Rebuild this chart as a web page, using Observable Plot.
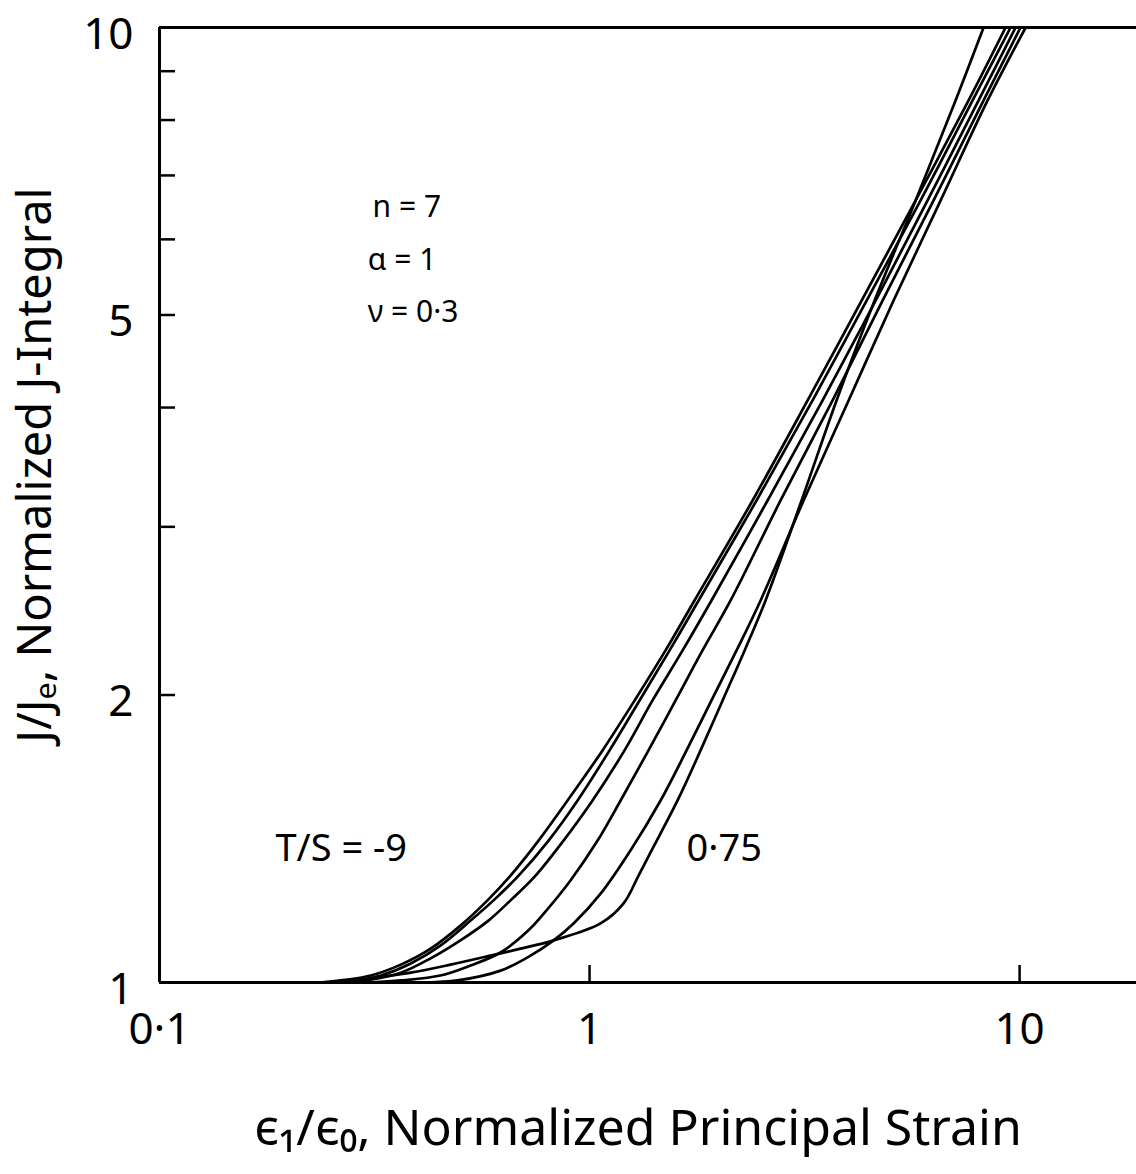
<!DOCTYPE html>
<html>
<head>
<meta charset="utf-8">
<script src="https://cdn.jsdelivr.net/npm/d3@7"></script>
<script src="https://cdn.jsdelivr.net/npm/@observablehq/plot@0.6"></script>
<style>
  html, body { margin: 0; padding: 0; background: #fff; }
  #chart svg { display: block; }
</style>
</head>
<body>
<div id="chart"></div>
<script>
// ---- Data (ε1/ε0 vs J/Je), six T/S curves ----
const seriesNames = ["T/S=-9", "curve 2", "curve 3", "curve 4", "curve 5", "T/S=0.75"];

const strainA = [0.237, 0.264, 0.310, 0.364, 0.427, 0.501, 0.579, 0.655, 0.761, 0.889, 1.072, 1.273, 1.502, 1.754, 2.394, 3.214, 4.292, 5.731, 7.610, 9.278];
const jA      = [1.000, 1.005, 1.017, 1.044, 1.085, 1.147, 1.219, 1.294, 1.408, 1.551, 1.750, 1.974, 2.227, 2.512, 3.197, 4.069, 5.177, 6.591, 8.387, 10];

const strainB = [0.257, 0.278, 0.327, 0.384, 0.450, 0.529, 0.598, 0.684, 0.803, 0.938, 1.113, 1.307, 1.535, 1.793, 2.445, 3.301, 4.408, 5.886, 7.775, 9.530];
const jB      = [1.000, 1.002, 1.017, 1.047, 1.093, 1.161, 1.219, 1.294, 1.408, 1.551, 1.750, 1.974, 2.227, 2.512, 3.197, 4.069, 5.177, 6.591, 8.387, 10];

const strainC = [0.271, 0.310, 0.364, 0.427, 0.501, 0.582, 0.655, 0.749, 0.870, 1.016, 1.206, 1.401, 1.646, 1.921, 2.594, 3.483, 4.626, 6.110, 8.029, 9.788];
const jC      = [1.000, 1.007, 1.024, 1.060, 1.107, 1.161, 1.219, 1.294, 1.408, 1.551, 1.750, 1.974, 2.227, 2.512, 3.197, 4.069, 5.177, 6.591, 8.387, 10];

const strainD = [0.310, 0.364, 0.450, 0.529, 0.621, 0.721, 0.794, 0.903, 1.044, 1.181, 1.371, 1.585, 1.831, 2.128, 2.781, 3.674, 4.801, 6.310, 8.246, 10.05];
const jD      = [1.000, 1.005, 1.017, 1.042, 1.075, 1.134, 1.190, 1.279, 1.408, 1.551, 1.750, 1.974, 2.227, 2.512, 3.197, 4.069, 5.177, 6.591, 8.387, 10];

const strainE = [0.416, 0.493, 0.621, 0.729, 0.825, 0.918, 1.061, 1.245, 1.463, 1.681, 1.921, 2.197, 2.499, 3.146, 4.003, 5.093, 6.553, 8.426, 10.33];
const jE      = [1.000, 1.005, 1.029, 1.067, 1.107, 1.153, 1.239, 1.375, 1.551, 1.750, 1.974, 2.227, 2.512, 3.197, 4.069, 5.177, 6.591, 8.387, 10];

const strainF = [0.271, 0.310, 0.384, 0.475, 0.589, 0.691, 0.825, 1.061, 1.200, 1.300, 1.394, 1.602, 1.812, 2.039, 2.294, 2.566, 3.112, 3.753, 4.601, 5.731, 7.098, 8.246];
const jF      = [1.000, 1.010, 1.024, 1.044, 1.067, 1.085, 1.107, 1.153, 1.210, 1.294, 1.375, 1.551, 1.750, 1.974, 2.227, 2.512, 3.197, 4.069, 5.177, 6.591, 8.387, 10];

const xTickValues = [0.1, 1, 10];
const xTickLabels = ["0·1", "1", "10"];
const xInnerTicks = [1, 10];
const yTickValues = [1, 2, 5, 10];
const yInnerTicks = [2, 3, 4, 5, 6, 7, 8, 9];

const annotationText = ["n = 7", "α = 1", "ν = 0·3"];
const annotationX = [0.313, 0.305, 0.305];
const annotationY = [6.48, 5.70, 5.03];

const curveLabelText = ["T/S = -9", "0·75"];
const curveLabelX = [0.186, 1.681];
const curveLabelY = [1.381, 1.381];

const xTitle = "ϵ₁/ϵ₀, Normalized Principal Strain";
const yTitle = "J/Jₑ, Normalized J-Integral";

// ---- Build the table ----
const allX = [strainA, strainB, strainC, strainD, strainE, strainF];
const allY = [jA, jB, jC, jD, jE, jF];
const curves = [];
allX.forEach((xs, k) => xs.forEach((x, i) => curves.push({series: seriesNames[k], strain: x, J: allY[k][i]})));

const annotations = annotationText.map((t, i) => ({text: t, x: annotationX[i], y: annotationY[i]}));
const curveLabels = curveLabelText.map((t, i) => ({text: t, x: curveLabelX[i], y: curveLabelY[i]}));

const W = 1136, H = 1174, ML = 159, MR = 0, MT = 27, MB = 192;
const plotW = W - ML - MR, plotH = H - MT - MB;

const chart = Plot.plot({
  width: W,
  height: H,
  marginLeft: ML,
  marginRight: MR,
  marginTop: MT,
  marginBottom: MB,
  style: {fontFamily: "'Noto Sans', 'DejaVu Sans', sans-serif", color: "#000", background: "#fff"},
  x: {type: "log", domain: [0.1, 18.7]},
  y: {type: "log", domain: [1, 10]},
  marks: [
    Plot.line(curves, {x: "strain", y: "J", z: "series", curve: "catmull-rom", stroke: "#000", strokeWidth: 2.7, clip: true}),
    Plot.tickY(yInnerTicks, {y: d => d, insetRight: plotW - 16, stroke: "#000", strokeWidth: 2.5}),
    Plot.tickX(xInnerTicks, {x: d => d, insetTop: plotH - 17, stroke: "#000", strokeWidth: 2.5}),
    Plot.ruleX([0.1], {stroke: "#000", strokeWidth: 3}),
    Plot.ruleY([1, 10], {stroke: "#000", strokeWidth: 3}),
    Plot.axisY({ticks: yTickValues, tickSize: 0, tickPadding: 26, dy: 7, fontSize: 44, label: null, tickFormat: d => String(d)}),
    Plot.axisX({ticks: xTickValues, tickSize: 0, tickPadding: 30, fontSize: 44, label: null, tickFormat: d => xTickLabels[xTickValues.indexOf(d)]}),
    Plot.text(annotations, {x: "x", y: "y", text: "text", textAnchor: "start", fontSize: 30, fill: "#000"}),
    Plot.text(curveLabels, {x: "x", y: "y", text: "text", textAnchor: "start", fontSize: 38, fill: "#000"}),
    Plot.text([xTitle], {frameAnchor: "bottom", textAnchor: "middle", lineAnchor: "middle", dx: -10, dy: 146, fontSize: 50, fill: "#000"}),
    Plot.text([yTitle], {frameAnchor: "left", textAnchor: "middle", lineAnchor: "middle", rotate: -90, dx: -124, dy: -40, fontSize: 47, fill: "#000"})
  ]
});
document.getElementById("chart").appendChild(chart);
</script>
</body>
</html>
